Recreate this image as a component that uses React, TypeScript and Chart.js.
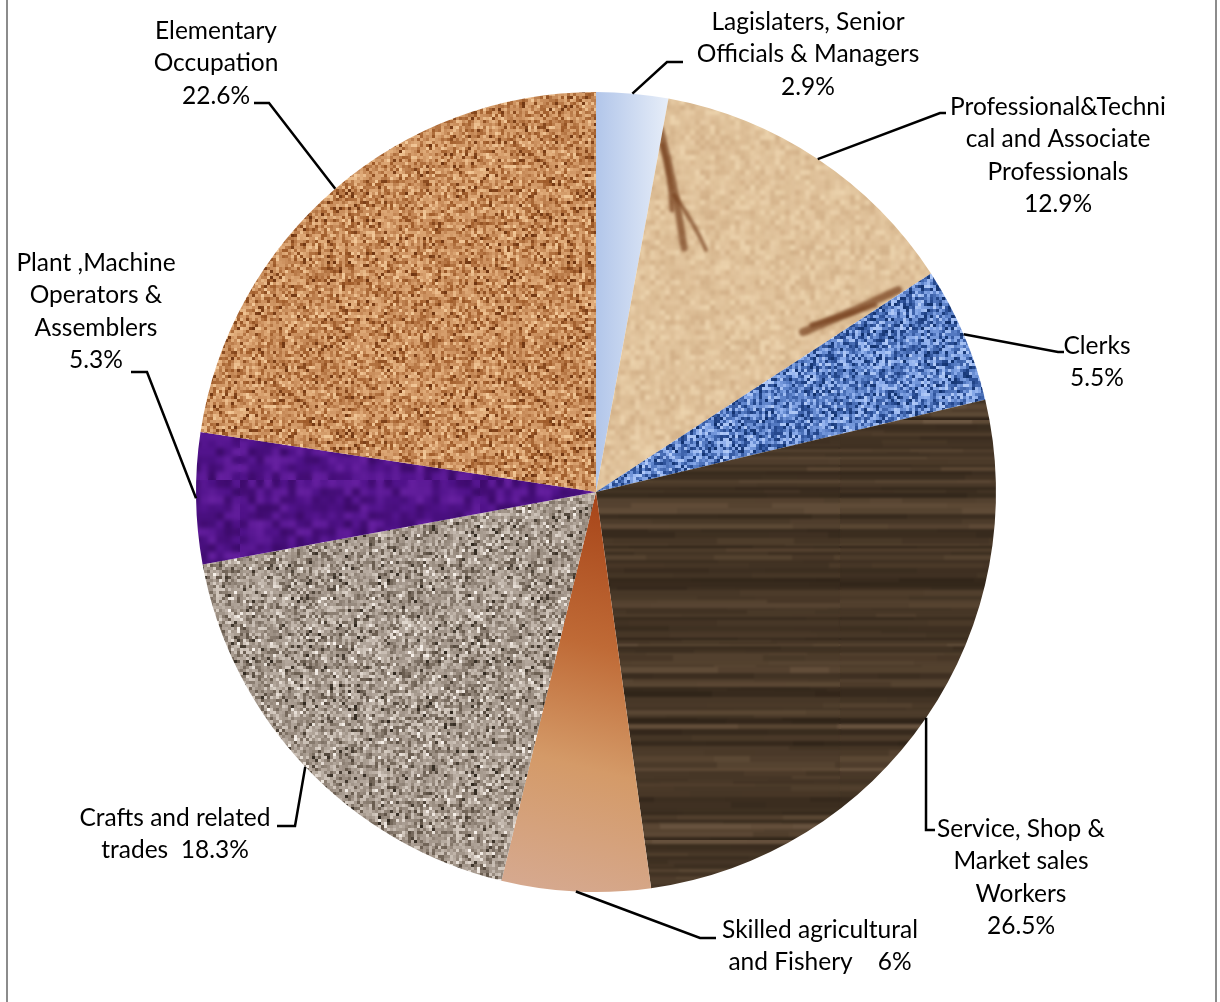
import React, { useEffect, useRef } from "react";
import { Chart, registerables } from "chart.js";

Chart.register(...registerables);

const categories = [
  "Lagislaters, Senior Officials & Managers",
  "Professional&Technical and Associate Professionals",
  "Clerks",
  "Service, Shop & Market sales Workers",
  "Skilled agricultural and Fishery",
  "Crafts and related trades",
  "Plant ,Machine Operators & Assemblers",
  "Elementary Occupation",
];
const shares = [2.9, 12.9, 5.5, 26.5, 6, 18.3, 5.3, 22.6];
const labelLines = [
  ["Lagislaters, Senior", "Officials & Managers", "{v}%"],
  ["Professional&Techni", "cal and Associate", "Professionals", "{v}%"],
  ["Clerks", "{v}%"],
  ["Service, Shop &", "Market sales", "Workers", "{v}%"],
  ["Skilled agricultural", "and Fishery    {v}%"],
  ["Crafts and related", "trades  {v}%"],
  ["Plant ,Machine", "Operators &", "Assemblers", "{v}%"],
  ["Elementary", "Occupation", "{v}%"],
];

// label layout (elbow of leader, end of leader, text centre x, first line centre y)
const LABEL_LAYOUT = [
  { elbow: [667, 62], end: [683, 62], tx: 808, ty: 22 },
  { elbow: [940, 113], end: [946, 113], tx: 1058, ty: 107 },
  { elbow: [1058, 352], end: [1064, 352], tx: 1097, ty: 346 },
  { elbow: [926, 830], end: [935, 830], tx: 1021, ty: 829 },
  { elbow: [700, 938], end: [716, 938], tx: 820, ty: 930 },
  { elbow: [295, 826], end: [277, 826], tx: 175, ty: 818 },
  { elbow: [147, 372], end: [131, 372], tx: 96, ty: 263 },
  { elbow: [269, 103], end: [254, 103], tx: 216, ty: 31 },
];
const LINE_H = 32.4;
const FONT = "24.5px Lato, 'Open Sans', sans-serif";

function rng(seed: number) {
  let s = seed | 0;
  return () => {
    s = (s + 0x6d2b79f5) | 0;
    let t = Math.imul(s ^ (s >>> 15), 1 | s);
    t = (t + Math.imul(t ^ (t >>> 7), 61 | t)) ^ t;
    return ((t ^ (t >>> 14)) >>> 0) / 4294967296;
  };
}

function hex(c: string) {
  return [parseInt(c.slice(1, 3), 16), parseInt(c.slice(3, 5), 16), parseInt(c.slice(5, 7), 16)];
}

function ramp(stops: [number, string][]) {
  const parsed = stops.map(([p, c]) => [p, hex(c)] as [number, number[]]);
  return (t: number) => {
    for (let i = 1; i < parsed.length; i++) {
      if (t <= parsed[i][0]) {
        const [p0, c0] = parsed[i - 1];
        const [p1, c1] = parsed[i];
        const f = (t - p0) / (p1 - p0 || 1);
        const c = c0.map((v, k) => Math.round(v + (c1[k] - v) * f));
        return `rgb(${c[0]},${c[1]},${c[2]})`;
      }
    }
    const c = parsed[parsed.length - 1][1];
    return `rgb(${c[0]},${c[1]},${c[2]})`;
  };
}

function blurred(src: HTMLCanvasElement, b: number) {
  if (b <= 0) return src;
  const c = document.createElement("canvas");
  c.width = src.width;
  c.height = src.height;
  const g = c.getContext("2d")!;
  g.drawImage(src, 0, 0);
  g.filter = `blur(${b}px)`;
  g.drawImage(src, 0, 0);
  g.filter = "none";
  return c;
}

function noiseCanvas(w: number, h: number, cw: number, ch: number, seed: number, stops: [number, string][]) {
  const c = document.createElement("canvas");
  c.width = w;
  c.height = h;
  const g = c.getContext("2d")!;
  const r = rng(seed);
  const col = ramp(stops);
  for (let y = 0; y < h; y += ch) {
    for (let x = 0; x < w; x += cw) {
      g.fillStyle = col(r());
      g.fillRect(x, y, cw, ch);
    }
  }
  return c;
}

function woodCanvas(w: number, h: number, seed: number) {
  const c = document.createElement("canvas");
  c.width = w;
  c.height = h;
  const g = c.getContext("2d")!;
  const r = rng(seed);
  const col = ramp([
    [0, "#2c2116"],
    [0.35, "#3c2e20"],
    [0.65, "#4b3a29"],
    [0.9, "#5e4a36"],
    [1, "#6c5742"],
  ]);
  let y = 0;
  while (y < h) {
    const rh = 2 + Math.floor(r() * 5);
    const base = r();
    let x = 0;
    while (x < w) {
      const sw = 30 + Math.floor(r() * 110);
      const t = Math.min(1, Math.max(0, base * 0.8 + r() * 0.2));
      g.fillStyle = col(t);
      g.fillRect(x, y, sw, rh);
      x += sw;
    }
    y += rh;
  }
  return blurred(c, 1.2);
}

function parchmentCanvas(w: number, h: number, seed: number) {
  const base = noiseCanvas(w, h, 5, 5, seed, [
    [0, "#d2b088"],
    [0.3, "#dcbd95"],
    [0.7, "#e2c59e"],
    [1, "#ecd3ad"],
  ]);
  const c = blurred(base, 1.5);
  const g = c.getContext("2d")!;
  g.lineCap = "round";
  g.filter = "blur(1.5px)";
  const strokes: [number, number, number, number, number][] = [
    [660, 128, 684, 248, 7],
    [662, 145, 672, 210, 5],
    [674, 195, 706, 250, 4],
    [803, 332, 898, 290, 8],
    [812, 325, 875, 305, 5],
  ];
  for (const [x1, y1, x2, y2, lw] of strokes) {
    g.strokeStyle = "rgba(118,64,30,0.7)";
    g.lineWidth = lw;
    g.beginPath();
    g.moveTo(x1, y1);
    g.quadraticCurveTo((x1 + x2) / 2 + 4, (y1 + y2) / 2, x2, y2);
    g.stroke();
  }
  g.filter = "none";
  return c;
}

const labelPlugin = {
  id: "leaderLabels",
  afterDraw(chart: any) {
    const ctx = chart.ctx as CanvasRenderingContext2D;
    const meta = chart.getDatasetMeta(0);
    ctx.save();
    // frame lines
    ctx.fillStyle = "#8c8c8c";
    ctx.fillRect(6, 0, 2, chart.height);
    ctx.fillRect(1215, 0, 2, chart.height);
    ctx.font = FONT;
    ctx.textAlign = "center";
    ctx.textBaseline = "middle";
    meta.data.forEach((arc: any, i: number) => {
      const p = arc.getProps(["x", "y", "startAngle", "endAngle", "outerRadius"], true);
      const mid = (p.startAngle + p.endAngle) / 2;
      const ax = p.x + Math.cos(mid) * p.outerRadius;
      const ay = p.y + Math.sin(mid) * p.outerRadius;
      const L = LABEL_LAYOUT[i];
      ctx.strokeStyle = "#000";
      ctx.lineWidth = 2.5;
      ctx.beginPath();
      ctx.moveTo(ax, ay);
      ctx.lineTo(L.elbow[0], L.elbow[1]);
      ctx.lineTo(L.end[0], L.end[1]);
      ctx.stroke();
      ctx.fillStyle = "#000";
      labelLines[i].forEach((ln, k) => {
        ctx.fillText(ln.replace("{v}", String(shares[i])), L.tx, L.ty + k * LINE_H);
      });
    });
    ctx.restore();
  },
};

export default function App() {
  const ref = useRef<HTMLCanvasElement | null>(null);
  useEffect(() => {
    const canvas = ref.current!;
    const ctx = canvas.getContext("2d")!;

    const blue = ctx.createLinearGradient(596, 0, 668, 0);
    blue.addColorStop(0, "#b2c6ea");
    blue.addColorStop(1, "#e6edf8");

    const parchment = ctx.createPattern(parchmentCanvas(1220, 1002, 11), "repeat")!;
    const denim = ctx.createPattern(
      noiseCanvas(240, 240, 3, 3, 23, [
        [0, "#10306c"],
        [0.2, "#2c5098"],
        [0.5, "#5a80c8"],
        [0.8, "#8cadec"],
        [1, "#b4ccf8"],
      ]),
      "repeat"
    )!;
    const wood = ctx.createPattern(woodCanvas(420, 420, 37), "repeat")!;

    const skilled = ctx.createLinearGradient(600, 500, 500, 892);
    skilled.addColorStop(0, "#a8461a");
    skilled.addColorStop(0.35, "#bf6a36");
    skilled.addColorStop(0.65, "#d49a68");
    skilled.addColorStop(1, "#d6aa92");

    const granite = ctx.createPattern(
      noiseCanvas(240, 240, 3, 3, 41, [
        [0, "#30281f"],
        [0.06, "#685b4e"],
        [0.3, "#978a7e"],
        [0.7, "#b6aa9f"],
        [0.94, "#d6ccc2"],
        [1, "#f8f2ec"],
      ]),
      "repeat"
    )!;
    const purple = ctx.createPattern(
      blurred(
        noiseCanvas(240, 240, 8, 8, 53, [
          [0, "#3c0a6a"],
          [0.5, "#50128a"],
          [1, "#6620a0"],
        ]),
        2
      ),
      "repeat"
    )!;
    const cork = ctx.createPattern(
      noiseCanvas(240, 240, 3, 3, 67, [
        [0, "#6e3410"],
        [0.1, "#a05c2a"],
        [0.45, "#c88c5a"],
        [0.85, "#dfaa78"],
        [1, "#f2c898"],
      ]),
      "repeat"
    )!;

    const fills = [blue, parchment, denim, wood, skilled, granite, purple, cork];

    const chart = new Chart(canvas, {
      type: "pie",
      data: {
        labels: categories,
        datasets: [
          {
            data: shares,
            backgroundColor: fills as any,
            borderWidth: 0,
            hoverOffset: 0,
          },
        ],
      },
      options: {
        responsive: false,
        animation: false,
        layout: { padding: { left: 196, right: 224, top: 92, bottom: 110 } },
        plugins: {
          legend: { display: false },
          tooltip: { enabled: false },
        },
        events: [],
      },
      plugins: [labelPlugin],
    });
    return () => chart.destroy();
  }, []);

  return (
    <div style={{ position: "absolute", left: 0, top: 0, width: 1220, height: 1002, background: "#fff" }}>
      <canvas ref={ref} width={1220} height={1002} style={{ display: "block" }} />
    </div>
  );
}
